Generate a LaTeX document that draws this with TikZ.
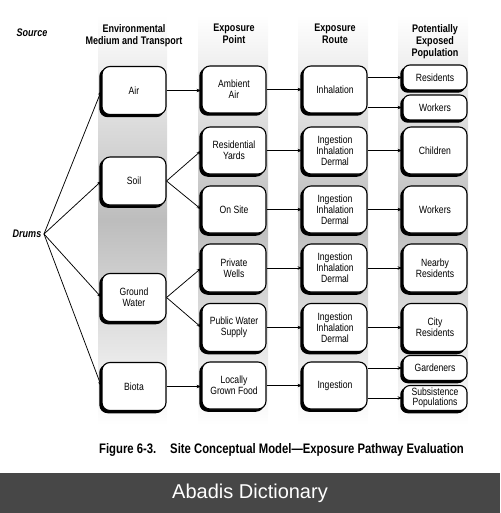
\documentclass[tikz,border=0pt]{standalone}
\usepackage{fontspec}
\setmainfont{Liberation Sans}
\newfontfamily\cond{Liberation Sans}[FakeStretch=0.82]
\usetikzlibrary{arrows.meta,shadows}
\definecolor{barcol}{HTML}{474747}
\begin{document}
\begin{tikzpicture}[x=1pt,y=-1pt,
  box/.style={draw, line width=1.1pt, rounded corners=8pt, fill=white,
    minimum width=64pt, minimum height=47pt, align=center,
    font=\cond\fontsize{10.5}{11.2}\selectfont, inner sep=1pt,
    general shadow={fill=black, draw=black, line width=1.1pt, shadow xshift=-2.2pt, shadow yshift=-2.2pt}},
  smallbox/.style={box, minimum height=25pt, rounded corners=7pt},
  hdr/.style={align=center, font=\cond\bfseries\fontsize{11}{12}\selectfont, inner sep=0pt},
  arr/.style={line width=0.75pt, -{Stealth[length=5pt,width=3.4pt]}},
  band/.style={top color=white, bottom color=white, middle color=black!26, draw=none}
]
\useasboundingbox (0,0) rectangle (500,513);
% bands
\shade[band] (98,15) rectangle (167,425);
\shade[band] (198,15) rectangle (268,425);
\shade[band] (298,15) rectangle (368,425);
\shade[band] (398,15) rectangle (468,425);
% headers
\node[hdr, font=\cond\bfseries\itshape\fontsize{11}{12}\selectfont] (hsrc) at (32,33) {Source};
\node[hdr, anchor=north] (h1) at (134,24) {Environmental\\Medium and Transport};
\node[hdr, anchor=north] (h2) at (234,24) {Exposure\\Point};
\node[hdr, anchor=north] (h3) at (335,24) {Exposure\\Route};
\node[hdr, anchor=north] (h4) at (435,24) {Potentially\\Exposed\\Population};
% source
\node[hdr, font=\cond\bfseries\itshape\fontsize{11}{12}\selectfont, inner sep=2.5pt] (drums) at (27,234) {Drums};
% column 1
\node[box, minimum height=48pt] (air) at (134,90.5) {Air};
\node[box, minimum height=48pt] (soil) at (134,181) {Soil};
\node[box, minimum height=48pt] (gw) at (134,297.5) {Ground\\Water};
\node[box, minimum height=48pt] (biota) at (134,386.5) {Biota};
% column 2
\node[box] (amb) at (234,89.5) {Ambient\\Air};
\node[box] (yards) at (234,150.5) {Residential\\Yards};
\node[box] (onsite) at (234,209.5) {On Site};
\node[box, minimum height=48pt] (wells) at (234,268) {Private\\Wells};
\node[box, minimum height=48pt] (pws) at (234,327.5) {Public Water\\Supply};
\node[box] (food) at (234,385.5) {Locally\\Grown Food};
% column 3
\node[box] (inh) at (335,89.5) {Inhalation};
\node[box] (r1) at (335,150.5) {Ingestion\\Inhalation\\Dermal};
\node[box] (r2) at (335,209.5) {Ingestion\\Inhalation\\Dermal};
\node[box, minimum height=48pt] (r3) at (335,268) {Ingestion\\Inhalation\\Dermal};
\node[box, minimum height=48pt] (r4) at (335,327.5) {Ingestion\\Inhalation\\Dermal};
\node[box] (ing) at (335,385.5) {Ingestion};
% column 4
\node[smallbox] (res) at (435,77.5) {Residents};
\node[smallbox] (wk1) at (435,107.5) {Workers};
\node[box] (chi) at (435,150.5) {Children};
\node[box] (wk2) at (435,209.5) {Workers};
\node[box, minimum height=48pt] (near) at (435,268) {Nearby\\Residents};
\node[box, minimum height=48pt] (city) at (435,327.5) {City\\Residents};
\node[smallbox] (gard) at (435,368) {Gardeners};
\node[smallbox, font=\cond\fontsize{10.5}{10.5}\selectfont] (subs) at (435,398) {Subsistence\\Populations};
% caption
\node[font=\cond\bfseries\fontsize{13.8}{14}\selectfont, inner sep=0pt] (cap) at (281.5,450) {Figure 6-3.\hspace{0.7em} Site Conceptual Model\textemdash Exposure Pathway Evaluation};
% bottom bar
\fill[barcol] (0,473) rectangle (500,513);
\node[font=\fontsize{20}{22}\selectfont, text=white, inner sep=0pt] (abadis) at (250,493) {Abadis Dictionary};
% arrows from drums
\draw[arr] (drums.east) -- (air.west);
\draw[arr] (drums.east) -- (soil.west);
\draw[arr] (drums.east) -- (gw.west);
\draw[arr] (drums.east) -- (biota.west);
% col1 -> col2
\draw[arr] (air.east) -- (air.east -| amb.west);
\draw[arr] (soil.east) -- (yards.west);
\draw[arr] (soil.east) -- (onsite.west);
\draw[arr] (gw.east) -- (wells.west);
\draw[arr] (gw.east) -- (pws.west);
\draw[arr] (biota.east) -- (biota.east -| food.west);
% col2 -> col3
\draw[arr] (amb.east) -- (inh.west);
\draw[arr] (yards.east) -- (r1.west);
\draw[arr] (onsite.east) -- (r2.west);
\draw[arr] (wells.east) -- (r3.west);
\draw[arr] (pws.east) -- (r4.west);
\draw[arr] (food.east) -- (ing.west);
% col3 -> col4
\draw[arr] (inh.east |- res.west) -- (res.west);
\draw[arr] (inh.east |- wk1.west) -- (wk1.west);
\draw[arr] (r1.east) -- (chi.west);
\draw[arr] (r2.east) -- (wk2.west);
\draw[arr] (r3.east) -- (near.west);
\draw[arr] (r4.east) -- (city.west);
\draw[arr] (ing.east |- gard.west) -- (gard.west);
\draw[arr] (ing.east |- subs.west) -- (subs.west);
\end{tikzpicture}
\end{document}
